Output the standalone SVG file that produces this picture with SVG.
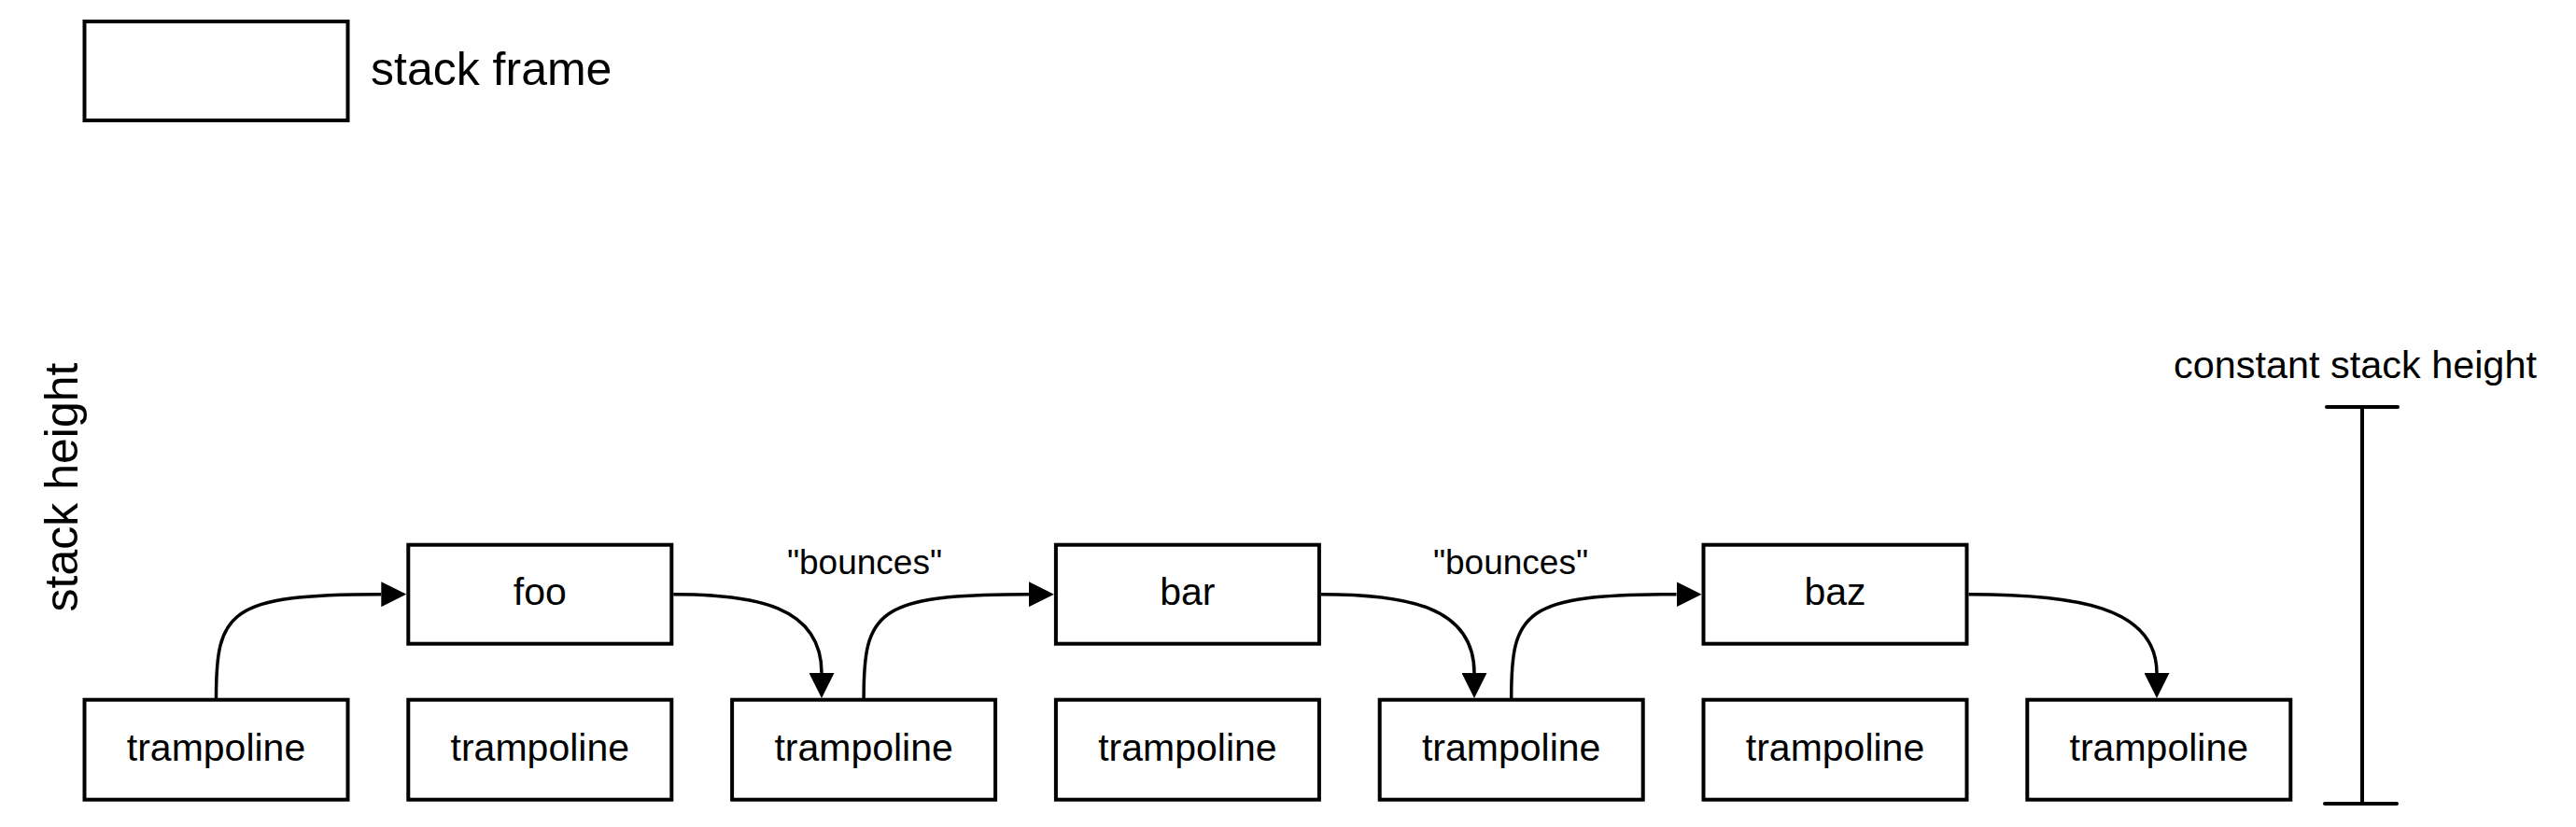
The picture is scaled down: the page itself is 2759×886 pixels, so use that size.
<svg xmlns="http://www.w3.org/2000/svg" width="2759" height="886" viewBox="0 0 2759 886">
  <style>
    .box { fill: #ffffff; stroke: #000000; stroke-width: 4; }
    .lbl { font-family: "Liberation Sans", Arial, Helvetica, sans-serif; fill: #000000; }
    .node { font-size: 41px; text-anchor: middle; }
    .edge { fill: none; stroke: #000000; stroke-width: 3.5; marker-end: url(#arrow); }
    .bar { fill: none; stroke: #000000; stroke-width: 4; stroke-linecap: round; }
  </style>
  <defs>
    <marker id="arrow" viewBox="0 0 27 27" refX="0" refY="13.5" markerWidth="27" markerHeight="27" markerUnits="userSpaceOnUse" orient="auto">
      <path d="M0 0 L27 13.5 L0 27 Z" fill="#000000"/>
    </marker>
  </defs>
  <rect width="2759" height="886" fill="#ffffff"/>

  <g id="legend">
    <rect class="box" x="90.5" y="23" width="282" height="106"/>
    <text class="lbl" x="397" y="91" font-size="50">stack frame</text>
  </g>

  <g id="axis-label">
    <text class="lbl" font-size="50" text-anchor="middle" transform="translate(83,522) rotate(-90)">stack height</text>
  </g>

  <g id="trampoline-1"><rect class="box" x="90.5" y="749.7" width="282" height="107"/><text class="lbl node" x="231.5" y="815">trampoline</text></g>
  <g id="trampoline-2"><rect class="box" x="437.3" y="749.7" width="282" height="107"/><text class="lbl node" x="578.3" y="815">trampoline</text></g>
  <g id="trampoline-3"><rect class="box" x="784.1" y="749.7" width="282" height="107"/><text class="lbl node" x="925.1" y="815">trampoline</text></g>
  <g id="trampoline-4"><rect class="box" x="1130.9" y="749.7" width="282" height="107"/><text class="lbl node" x="1271.9" y="815">trampoline</text></g>
  <g id="trampoline-5"><rect class="box" x="1477.7" y="749.7" width="282" height="107"/><text class="lbl node" x="1618.7" y="815">trampoline</text></g>
  <g id="trampoline-6"><rect class="box" x="1824.5" y="749.7" width="282" height="107"/><text class="lbl node" x="1965.5" y="815">trampoline</text></g>
  <g id="trampoline-7"><rect class="box" x="2171.3" y="749.7" width="282" height="107"/><text class="lbl node" x="2312.3" y="815">trampoline</text></g>

  <g id="foo"><rect class="box" x="437.3" y="583.7" width="282" height="106"/><text class="lbl node" x="578.3" y="648">foo</text></g>
  <g id="bar"><rect class="box" x="1130.9" y="583.7" width="282" height="106"/><text class="lbl node" x="1271.9" y="648">bar</text></g>
  <g id="baz"><rect class="box" x="1824.5" y="583.7" width="282" height="106"/><text class="lbl node" x="1965.5" y="648">baz</text></g>

  <g id="connectors">
    <path class="edge" d="M231.5 748 C231.5 655 244 636.7 408.3 636.7"/>
    <path class="edge" d="M721.3 636.7 C808 636.7 880 649 880 721"/>
    <path class="edge" d="M925.1 748 C925.1 655 938 636.7 1101.9 636.7"/>
    <path class="edge" d="M1414.9 636.7 C1505 636.7 1579 649 1579 721"/>
    <path class="edge" d="M1618.7 748 C1618.7 655 1631 636.7 1795.5 636.7"/>
    <path class="edge" d="M2108.5 636.7 C2220 636.7 2310 649 2310 721"/>
  </g>

  <g id="labels">
    <text class="lbl" x="926" y="615" font-size="37" text-anchor="middle">"bounces"</text>
    <text class="lbl" x="1618" y="615" font-size="37" text-anchor="middle">"bounces"</text>
  </g>

  <g id="height-bracket">
    <line class="bar" x1="2530" y1="436" x2="2530" y2="861"/>
    <line class="bar" x1="2492" y1="436" x2="2568" y2="436"/>
    <line class="bar" x1="2490" y1="861" x2="2567" y2="861"/>
    <text class="lbl" x="2522.5" y="405" font-size="41.4" text-anchor="middle">constant stack height</text>
  </g>
</svg>
